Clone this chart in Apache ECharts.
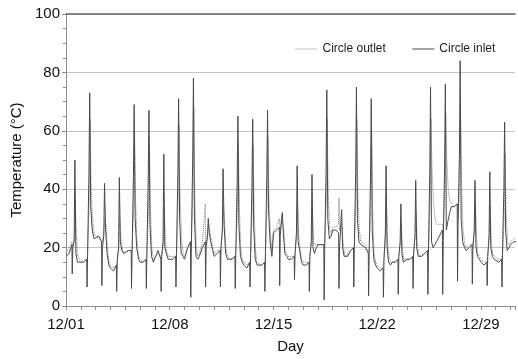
<!DOCTYPE html>
<html>
<head>
<meta charset="utf-8">
<script src="https://cdn.jsdelivr.net/npm/echarts@6/dist/echarts.min.js"></script>
<style>
  html, body { margin: 0; padding: 0; background: #fff; }
  #chart { width: 518px; height: 359px; }
</style>
</head>
<body>
<div id="chart"></div>
<script>
// sample times inside each day (hours)
var inletHours = [0, 5, 9.6, 10.1, 11, 13.2, 14.4, 16, 18.5, 21.5]
var outletHours = [0, 5, 9.6, 10.1, 11, 13.6, 15, 16.8, 19, 21.5]
var dayLabels = ['12/01', '12/08', '12/15', '12/22', '12/29']

// Circle inlet, one row per day 12/01 .. 12/31
var inletByDay = [
  [17, 18, 21, 11, 20, 22, 50, 18, 15, 15],
  [15, 15, 16, 6.5, 18, 46, 73, 34, 26, 23],
  [23, 24, 22, 7, 20, 24, 42, 27, 18, 14],
  [13, 12, 14, 5, 16, 20, 44, 22, 19, 18],
  [18, 19, 19, 6, 18, 44, 69, 30, 20, 16],
  [15, 15, 16, 6, 18, 44, 67, 28, 17, 15],
  [15, 19, 16, 5, 17, 22, 52, 20, 18, 16],
  [16, 16, 17, 6.5, 18, 46, 71, 30, 18, 17],
  [16, 20, 22, 3, 20, 50, 78, 30, 17, 16],
  [17, 20, 22, 6.5, 20, 24, 30, 25, 22, 19],
  [17, 18, 19, 6.5, 20, 26, 47, 28, 18, 16],
  [16, 16, 17, 6, 18, 42, 65, 28, 17, 15],
  [14, 13, 15, 6.5, 18, 42, 64, 27, 16, 14],
  [14, 14, 15, 5, 18, 44, 67, 33, 22, 17],
  [25, 26, 27, 7, 24, 30, 32, 25, 18, 17],
  [16, 16, 17, 9, 18, 25, 48, 22, 19, 15],
  [14, 14, 15, 5, 17, 22, 45, 20, 18, 20],
  [21, 21, 21, 2, 20, 46, 74, 30, 23, 24],
  [26, 26, 25, 6, 20, 28, 33, 20, 17, 17],
  [17, 19, 20, 6.5, 20, 46, 75, 30, 22, 21],
  [21, 20, 18, 3.5, 18, 44, 71, 26, 16, 14],
  [13, 12, 13, 3, 16, 25, 48, 20, 15, 14],
  [15, 15, 16, 4, 17, 22, 35, 18, 15, 15],
  [16, 16, 17, 6, 18, 24, 43, 20, 17, 17],
  [17, 18, 19, 4, 18, 46, 75, 22, 20, 21],
  [22, 24, 26, 4, 22, 48, 76, 26, 29, 32],
  [34, 34, 35, 8.5, 28, 52, 84, 30, 22, 20],
  [19, 20, 21, 7.5, 20, 26, 43, 20, 17, 16],
  [15, 14, 15, 7, 17, 24, 46, 20, 17, 16],
  [16, 15, 16, 6.5, 18, 40, 63, 26, 19, 20],
  [21, 22, 22, 22, 22, 22, 22, 22, 22, 22]
]

// Circle outlet
var outletByDay = [
  [18, 20, 22, 20, 21, 24, 36, 24, 17, 16],
  [15, 16, 16, 15, 18, 36, 64, 40, 30, 25],
  [24, 23, 22, 21, 22, 26, 30, 28, 20, 15],
  [14, 13, 14, 13, 15, 20, 30, 24, 20, 18],
  [18, 19, 19, 18, 19, 34, 60, 36, 22, 17],
  [16, 15, 16, 15, 17, 32, 58, 34, 20, 16],
  [16, 18, 17, 16, 17, 22, 34, 22, 19, 17],
  [17, 17, 17, 16, 18, 36, 62, 38, 24, 18],
  [17, 20, 21, 20, 21, 40, 68, 36, 20, 17],
  [18, 22, 35, 22, 21, 26, 28, 26, 23, 20],
  [18, 19, 19, 18, 20, 26, 34, 28, 20, 17],
  [17, 16, 17, 16, 18, 32, 56, 34, 20, 16],
  [15, 14, 15, 14, 17, 32, 55, 33, 19, 15],
  [15, 14, 15, 14, 17, 34, 58, 36, 25, 19],
  [26, 27, 30, 28, 26, 30, 30, 26, 19, 18],
  [17, 17, 17, 16, 18, 24, 34, 24, 20, 16],
  [15, 15, 15, 14, 17, 22, 33, 22, 21, 21],
  [21, 21, 21, 20, 21, 36, 64, 38, 26, 25],
  [27, 27, 28, 37, 26, 28, 27, 22, 18, 17],
  [18, 19, 20, 19, 21, 36, 64, 38, 26, 22],
  [22, 21, 19, 18, 19, 34, 60, 32, 18, 15],
  [14, 13, 13, 13, 16, 24, 34, 22, 17, 15],
  [15, 15, 16, 15, 17, 22, 28, 20, 16, 16],
  [16, 16, 17, 16, 18, 24, 32, 22, 18, 17],
  [17, 18, 19, 18, 19, 36, 64, 48, 36, 30],
  [28, 28, 28, 27, 26, 38, 66, 50, 40, 36],
  [35, 34, 35, 34, 30, 42, 67, 42, 26, 22],
  [20, 21, 21, 20, 21, 26, 36, 24, 18, 17],
  [16, 15, 15, 15, 17, 24, 34, 22, 18, 17],
  [17, 16, 16, 16, 18, 30, 52, 32, 22, 21],
  [22, 23, 23, 23, 23, 23, 23, 23, 23, 23]
]

function toPoints(byDay, hours) {
  var pts = []
  byDay.forEach(function (row, d) {
    row.forEach(function (v, i) {
      pts.push([d + hours[i] / 24, v])
    })
  })
  return pts
}

var chart = echarts.init(document.getElementById('chart'))
var font = '"Liberation Sans", Arial, sans-serif'

chart.setOption({
  animation: false,
  grid: { left: 66, top: 14, right: 0, bottom: 52 },
  legend: {
    left: 290,
    top: 38,
    itemWidth: 22,
    itemHeight: 10,
    itemGap: 26,
    itemStyle: { opacity: 0 },
    lineStyle: { width: 1 },
    textStyle: { fontFamily: font, fontSize: 12, color: '#222' },
    data: ['Circle outlet', 'Circle inlet']
  },
  xAxis: [
    {
      type: 'value',
      min: 0,
      max: 30.3,
      interval: 1,
      name: 'Day',
      nameLocation: 'middle',
      nameGap: 33,
      nameTextStyle: { fontFamily: font, fontSize: 15, color: '#111' },
      axisLine: { lineStyle: { color: '#8c8c8c' } },
      axisTick: { show: true, length: 4, lineStyle: { color: '#8c8c8c' } },
      axisLabel: {
        fontFamily: font,
        fontSize: 15,
        color: '#111',
        margin: 11,
        formatter: function (v) {
          return v % 7 === 0 ? dayLabels[v / 7] : ''
        }
      },
      splitLine: { show: false }
    },
    {
      type: 'value',
      position: 'top',
      min: 0,
      max: 30.3,
      axisLine: { show: true, lineStyle: { color: '#666', width: 1.5 } },
      axisTick: { show: false },
      axisLabel: { show: false },
      splitLine: { show: false }
    }
  ],
  yAxis: {
    type: 'value',
    min: 0,
    max: 100,
    interval: 20,
    name: 'Temperature (°C)',
    nameLocation: 'middle',
    nameGap: 40,
    nameTextStyle: { fontFamily: font, fontSize: 15, color: '#111' },
    axisLine: { show: true, lineStyle: { color: '#8c8c8c' } },
    axisTick: { show: true, length: 4, lineStyle: { color: '#8c8c8c' } },
    minorTick: { show: true, splitNumber: 4, length: 3, lineStyle: { color: '#8c8c8c' } },
    axisLabel: { fontFamily: font, fontSize: 15, color: '#111', margin: 6 },
    splitLine: { lineStyle: { color: '#c4c4c4' } }
  },
  series: [
    {
      name: 'Circle outlet',
      type: 'line',
      symbol: 'none',
      z: 2,
      data: toPoints(outletByDay, outletHours),
      lineStyle: { color: '#808080', width: 1, type: 'dotted' },
      itemStyle: { color: '#808080' }
    },
    {
      name: 'Circle inlet',
      type: 'line',
      symbol: 'none',
      z: 3,
      data: toPoints(inletByDay, inletHours),
      lineStyle: { color: '#4a4a4a', width: 1 },
      itemStyle: { color: '#4a4a4a' }
    }
  ]
})
</script>
</body>
</html>
